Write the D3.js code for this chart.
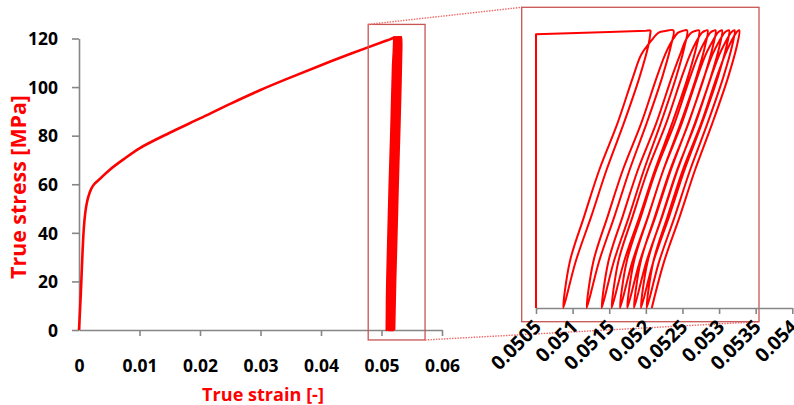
<!DOCTYPE html>
<html>
<head>
<meta charset="utf-8">
<script src="https://cdn.jsdelivr.net/npm/d3@7"></script>
<style>
  html, body { margin: 0; padding: 0; background: #fff; }
  svg { display: block; }
  text { font-family: "Open Sans", "Liberation Sans", sans-serif; }
</style>
</head>
<body>
<svg id="chart" width="794" height="405"></svg>
<script>
// Monotonic loading curve up to the first unloading point
const loadStrain = [0, 0.0003, 0.0006, 0.0008, 0.001, 0.0012, 0.0015, 0.002, 0.0025, 0.0035, 0.005, 0.0075,
  0.01, 0.015, 0.02, 0.025, 0.03, 0.035, 0.04, 0.045, 0.0505, 0.0515, 0.052, 0.052067];
const loadStress = [0, 15, 33, 42, 47.5, 51, 54.5, 58, 60, 62.3, 65.8, 70.5,
  74.8, 81.2, 87.1, 93.1, 98.8, 104, 109, 113.8, 118.85, 119.75, 120.3, 120.5];

// Unloading branches (peak -> zero stress), one row per cycle
const unloadStress = [120.5, 114, 100, 80, 60, 40, 20, 0];
const unloadStrain = [
  [0.052067, 0.052035, 0.051912, 0.051697, 0.051464, 0.051257, 0.051040, 0.050873],
  [0.052376, 0.052344, 0.052222, 0.052009, 0.051779, 0.051574, 0.051359, 0.051193],
  [0.052563, 0.052532, 0.052412, 0.052202, 0.051975, 0.051773, 0.051561, 0.051398],
  [0.052727, 0.052695, 0.052572, 0.052357, 0.052125, 0.051918, 0.051701, 0.051534],
  [0.052843, 0.052811, 0.052688, 0.052473, 0.052240, 0.052033, 0.051815, 0.051648],
  [0.052952, 0.052919, 0.052795, 0.052578, 0.052343, 0.052135, 0.051916, 0.051747],
  [0.053041, 0.053009, 0.052885, 0.052668, 0.052434, 0.052226, 0.052007, 0.051839],
  [0.053137, 0.053105, 0.052981, 0.052764, 0.052529, 0.052321, 0.052102, 0.051934],
  [0.053212, 0.053180, 0.053056, 0.052840, 0.052606, 0.052398, 0.052180, 0.052012],
  [0.053277, 0.053245, 0.053122, 0.052906, 0.052673, 0.052466, 0.052248, 0.052081]
];

// Reloading branches (zero stress -> next peak), one row per cycle
const reloadStress = [0, 20, 40, 60, 80, 100, 110, 116, 119.5, 120.2, 120.5];
const reloadStrain = [
  [0.050873, 0.050961, 0.051160, 0.051365, 0.051611, 0.051822, 0.051938, 0.052074, 0.052175, 0.052268, 0.052376],
  [0.051193, 0.051282, 0.051481, 0.051687, 0.051935, 0.052147, 0.052263, 0.052358, 0.052441, 0.052498, 0.052563],
  [0.051398, 0.051487, 0.051686, 0.051892, 0.052140, 0.052352, 0.052468, 0.052541, 0.052620, 0.052670, 0.052727],
  [0.051534, 0.051623, 0.051822, 0.052028, 0.052276, 0.052488, 0.052604, 0.052695, 0.052768, 0.052802, 0.052843],
  [0.051648, 0.051737, 0.051936, 0.052142, 0.052390, 0.052602, 0.052718, 0.052810, 0.052881, 0.052914, 0.052952],
  [0.051747, 0.051836, 0.052035, 0.052241, 0.052489, 0.052701, 0.052817, 0.052915, 0.052983, 0.053010, 0.053041],
  [0.051839, 0.051928, 0.052127, 0.052333, 0.052581, 0.052793, 0.052909, 0.053005, 0.053075, 0.053103, 0.053137],
  [0.051934, 0.052023, 0.052222, 0.052428, 0.052676, 0.052888, 0.053004, 0.053097, 0.053163, 0.053186, 0.053212],
  [0.052012, 0.052101, 0.052300, 0.052506, 0.052754, 0.052966, 0.053082, 0.053170, 0.053235, 0.053254, 0.053277]
];

// Tick values
const mainStrainTicks = [0, 0.01, 0.02, 0.03, 0.04, 0.05, 0.06];
const mainStressTicks = [0, 20, 40, 60, 80, 100, 120];
const insetStrainTicks = [0.0505, 0.051, 0.0515, 0.052, 0.0525, 0.053, 0.0535, 0.054];

// Region of the main chart shown enlarged in the inset
const zoomStrain = [0.0478, 0.0572];
const zoomStress = [-4.1, 125.8];

const xTitle = "True strain [-]";
const yTitle = "True stress [MPa]";

// ---- loading part and cyclic part of the record ----
const loading = loadStrain.map((s, i) => [s, loadStress[i]]);
const cycles = [[unloadStrain[0][0], unloadStress[0]]];
unloadStrain.forEach((row, c) => {
  row.forEach((s, j) => { if (j > 0) cycles.push([s, unloadStress[j]]); });
  if (c < reloadStrain.length) {
    reloadStrain[c].forEach((s, j) => { if (j > 0) cycles.push([s, reloadStress[j]]); });
  }
});

const RED = "#ff0000";
const AXIS = "#868686";
const fmt = v => v === 0 ? "0" : String(+v.toFixed(4));

const svg = d3.select("#chart");

// ---- main chart ----
const x = d3.scaleLinear().domain([0, 0.06]).range([79, 442]);
const y = d3.scaleLinear().domain([0, 120]).range([330, 38.5]);

const gx = svg.append("g").attr("transform", "translate(0,330)")
  .call(d3.axisBottom(x).tickValues(mainStrainTicks).tickSize(6).tickSizeOuter(0).tickFormat(fmt));
const gy = svg.append("g").attr("transform", "translate(79,0)")
  .call(d3.axisLeft(y).tickValues(mainStressTicks).tickSize(7).tickSizeOuter(0).tickFormat(fmt));

[gx, gy].forEach(g => {
  g.select(".domain").attr("stroke", AXIS).attr("stroke-width", 1.6);
  g.selectAll(".tick line").attr("stroke", AXIS).attr("stroke-width", 1.6);
  g.selectAll(".tick text")
    .attr("fill", "#000")
    .style("font-size", "17.5px")
    .style("font-weight", 700);
});
gx.selectAll(".tick").filter(d => d === 0).select("line").remove();
gx.selectAll(".tick text").attr("y", 36).attr("dy", "0.35em");
gy.selectAll(".tick text").attr("x", -21).attr("dy", "0.36em");

const smooth = d3.curveCatmullRom.alpha(0.5);
const lineMain = d3.line().x(d => x(d[0])).y(d => y(d[1])).curve(smooth);

svg.append("path")
  .datum(loading.concat(cycles.slice(1)))
  .attr("d", lineMain)
  .attr("fill", "none")
  .attr("stroke", RED)
  .attr("stroke-width", 2.6)
  .attr("stroke-linejoin", "round");

// axis titles
function fitText(sel, target) {
  const len = sel.node().getComputedTextLength();
  const fs = parseFloat(sel.style("font-size"));
  sel.style("font-size", (fs * target / len) + "px");
}
const xt = svg.append("text")
  .attr("x", 263).attr("y", 401)
  .attr("text-anchor", "middle")
  .attr("fill", RED)
  .style("font-size", "18px").style("font-weight", 700)
  .text(xTitle);
fitText(xt, 122);

const yt = svg.append("text")
  .attr("transform", "translate(26,187) rotate(-90)")
  .attr("text-anchor", "middle")
  .attr("fill", RED)
  .style("font-size", "18px").style("font-weight", 700)
  .text(yTitle);
fitText(yt, 184);

// zoom window outline on the main chart
const zx0 = x(zoomStrain[0]), zx1 = x(zoomStrain[1]);
const zy0 = y(zoomStress[1]), zy1 = y(zoomStress[0]);
svg.append("rect")
  .attr("x", zx0).attr("y", zy0)
  .attr("width", zx1 - zx0).attr("height", zy1 - zy0)
  .attr("fill", "none").attr("stroke", "#c85454").attr("stroke-width", 1.3);

// ---- inset ----
const inset = { left: 521.7, top: 7.3, right: 759, bottom: 321.7 };

const xiAxis = d3.scaleLinear().domain([0.0505, 0.054]).range([536, 792.3]);
const xi = xiAxis.copy().clamp(true);
const yi = d3.scaleLinear().domain([0, 120]).range([308, 31.5]);

// connectors from the zoom window to the inset frame
const conn = [
  [[zx0, zy0], [inset.left, inset.top]],
  [[zx1, zy1], [inset.right, inset.bottom]]
];
svg.selectAll("line.conn").data(conn).join("line")
  .attr("class", "conn")
  .attr("x1", d => d[0][0]).attr("y1", d => d[0][1])
  .attr("x2", d => d[1][0]).attr("y2", d => d[1][1])
  .attr("stroke", "#f06a6a").attr("stroke-width", 1.4)
  .attr("stroke-dasharray", "1.5,1.2");

svg.append("rect")
  .attr("x", inset.left).attr("y", inset.top)
  .attr("width", inset.right - inset.left).attr("height", inset.bottom - inset.top)
  .attr("fill", "#fff").attr("stroke", "#c85454").attr("stroke-width", 1.3);

const gxi = svg.append("g").attr("transform", "translate(0,308)")
  .call(d3.axisBottom(xiAxis).tickValues(insetStrainTicks).tickSize(6).tickSizeOuter(0).tickFormat(fmt));
gxi.select(".domain").attr("stroke", AXIS).attr("stroke-width", 1.6);
gxi.selectAll(".tick line").attr("stroke", AXIS).attr("stroke-width", 1.6);
gxi.selectAll(".tick text")
  .attr("fill", "#000")
  .attr("text-anchor", "end")
  .attr("x", 0).attr("y", 0).attr("dy", 0)
  .attr("transform", "translate(6,20) rotate(-45)")
  .style("font-size", "19.5px")
  .style("font-weight", 700);

// loading part is clamped against the inset's left edge, drawn with straight joins
const lineInsetLoad = d3.line().x(d => xi(d[0])).y(d => yi(d[1]));
const lineInsetCycles = d3.line().x(d => xi(d[0])).y(d => yi(d[1])).curve(smooth);

svg.append("path")
  .datum(loading)
  .attr("d", lineInsetLoad)
  .attr("fill", "none")
  .attr("stroke", RED)
  .attr("stroke-width", 2)
  .attr("stroke-linejoin", "round");

svg.append("path")
  .datum(cycles)
  .attr("d", lineInsetCycles)
  .attr("fill", "none")
  .attr("stroke", RED)
  .attr("stroke-width", 2)
  .attr("stroke-linejoin", "round");
</script>
</body>
</html>
